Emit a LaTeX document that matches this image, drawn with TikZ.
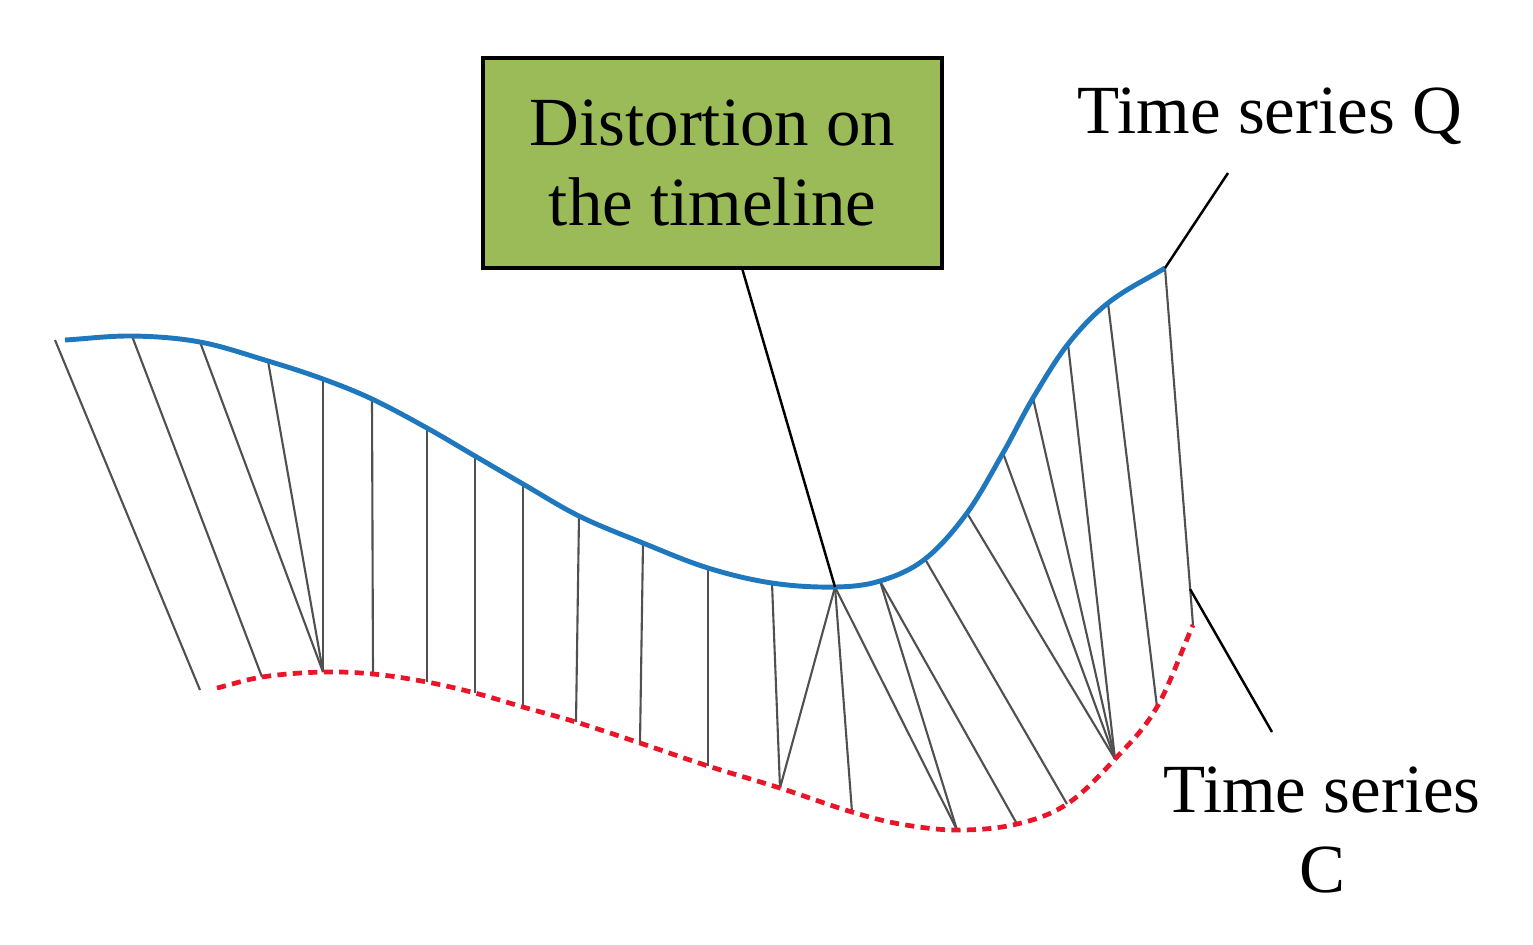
\documentclass[tikz,border=0pt]{standalone}
\usepackage{fontspec}
\setmainfont{Liberation Serif}
\usetikzlibrary{calc}
\definecolor{qblue}{RGB}{31,119,190}
\definecolor{cred}{RGB}{232,22,40}
\definecolor{boxgreen}{RGB}{155,187,89}
\definecolor{warp}{RGB}{80,80,80}
\tikzset{
  qcurve/.style={draw=qblue, line width=1.4pt},
  ccurve/.style={draw=cred, line width=1.35pt, dash pattern=on 2.6pt off 1.8pt},
  warpline/.style={draw=warp, line width=0.6pt},
  callout/.style={draw=black, line width=0.7pt},
  lbl/.style={font=\fontsize{19.6}{22.8}\selectfont, text=black, inner sep=0pt},
  notebox/.style={draw=black, line width=1pt, fill=boxgreen, minimum width=4.59cm, minimum height=2.1cm, align=center}
}
\begin{document}
\begin{tikzpicture}[x=0.01cm,y=-0.01cm]
\useasboundingbox (0,0) rectangle (1533,944);
% points on time series Q
\coordinate (q1) at (55,340);
\coordinate (q2) at (132,336);
\coordinate (q3) at (200,342);
\coordinate (q4) at (268,361);
\coordinate (q5) at (323,379);
\coordinate (q6) at (372,399);
\coordinate (q7) at (427,428);
\coordinate (q8) at (475,456);
\coordinate (q9) at (523,484);
\coordinate (q10) at (579,516);
\coordinate (q11) at (643,543);
\coordinate (q12) at (708,568);
\coordinate (q13) at (772,583);
\coordinate (q14) at (835,587);
\coordinate (q15) at (880,581);
\coordinate (q16) at (925,559);
\coordinate (q17) at (967,513);
\coordinate (q18) at (1003,453);
\coordinate (q19) at (1033,398);
\coordinate (q20) at (1068,344);
\coordinate (q21) at (1108,303);
\coordinate (q22) at (1165,268);
% points on time series C
\coordinate (c1) at (200,690);
\coordinate (c2) at (262,677);
\coordinate (c3) at (323,672);
\coordinate (c4) at (373,674);
\coordinate (c5) at (427,682);
\coordinate (c6) at (475,693);
\coordinate (c7) at (523,707);
\coordinate (c8) at (576,722);
\coordinate (c9) at (640,743);
\coordinate (c10) at (708,766);
\coordinate (c11) at (780,788);
\coordinate (c12) at (852,812);
\coordinate (c13) at (957,830);
\coordinate (c14) at (1017,824);
\coordinate (c15) at (1067,804);
\coordinate (c16) at (1115,759);
\coordinate (c17) at (1157,707);
\coordinate (c18) at (1193,625);
% warping lines
\foreach \a/\b in {q1/c1,q2/c2,q3/c3,q4/c3,q5/c3,q6/c4,q7/c5,q8/c6,q9/c7,q10/c8,q11/c9,q12/c10,q13/c11,q14/c11,q14/c12,q14/c13,q15/c13,q15/c14,q16/c15,q17/c16,q18/c16,q19/c16,q20/c16,q21/c17,q22/c18}
  \draw[warpline] (\a) -- (\b);
% time series Q (cubic Hermite through the knots)
\draw[qcurve] (65,340) foreach \xa/\ya/\xb/\yb/\xc/\yc/\xd/\yd in {
  65/340/65/340/132/336/200/342,
  65/340/132/336/200/342/268/361,
  132/336/200/342/268/361/323/379,
  200/342/268/361/323/379/372/399,
  268/361/323/379/372/399/427/428,
  323/379/372/399/427/428/475/456,
  372/399/427/428/475/456/523/484,
  427/428/475/456/523/484/579/516,
  475/456/523/484/579/516/643/543,
  523/484/579/516/643/543/708/568,
  579/516/643/543/708/568/772/583,
  643/543/708/568/772/583/835/587,
  708/568/772/583/835/587/880/581,
  772/583/835/587/880/581/925/559,
  835/587/880/581/925/559/967/513,
  880/581/925/559/967/513/1003/453,
  925/559/967/513/1003/453/1033/398,
  967/513/1003/453/1033/398/1068/344,
  1003/453/1033/398/1068/344/1108/303,
  1033/398/1068/344/1108/303/1165/268,
  1068/344/1108/303/1165/268/1165/268}
  { .. controls ({\xb+(\xc-\xb)/3},{\yb+(\yc-\ya)/(\xc-\xa)*(\xc-\xb)/3}) and ({\xc-(\xc-\xb)/3},{\yc-(\yd-\yb)/(\xd-\xb)*(\xc-\xb)/3}) .. (\xc,\yc) };
% time series C
\draw[ccurve] (217,688) foreach \xa/\ya/\xb/\yb/\xc/\yc/\xd/\yd in {
  217/688/217/688/262/677/323/672,
  217/688/262/677/323/672/373/674,
  262/677/323/672/373/674/427/682,
  323/672/373/674/427/682/475/693,
  373/674/427/682/475/693/523/707,
  427/682/475/693/523/707/576/722,
  475/693/523/707/576/722/640/743,
  523/707/576/722/640/743/708/766,
  576/722/640/743/708/766/780/788,
  640/743/708/766/780/788/852/812,
  708/766/780/788/852/812/900/824,
  780/788/852/812/900/824/957/830,
  852/812/900/824/957/830/1017/824,
  900/824/957/830/1017/824/1067/804,
  957/830/1017/824/1067/804/1115/759,
  1017/824/1067/804/1115/759/1157/707,
  1067/804/1115/759/1157/707/1193/625,
  1115/759/1157/707/1193/625/1193/625}
  { .. controls ({\xb+(\xc-\xb)/3},{\yb+(\yc-\ya)/(\xc-\xa)*(\xc-\xb)/3}) and ({\xc-(\xc-\xb)/3},{\yc-(\yd-\yb)/(\xd-\xb)*(\xc-\xb)/3}) .. (\xc,\yc) };
% annotation box
\node[notebox, lbl] (box) at (712.5,163) {Distortion on\\the timeline};
\draw[callout] ($(box.south)+(30,0)$) -- (q14);
% label Q
\node[lbl, anchor=base] (qlabel) at (1270,133) {Time series Q};
\coordinate (qtip) at (1228,173);
\draw[callout] (qtip) -- (q22);
% label C
\node[lbl, align=center] (clabel) at (1322,830) {Time series\\C};
\coordinate (cjoin) at ($(q22)!0.9!(c18)$);
\coordinate (ctip) at (1272,732);
\draw[callout] (cjoin) -- (ctip);
\end{tikzpicture}
\end{document}
